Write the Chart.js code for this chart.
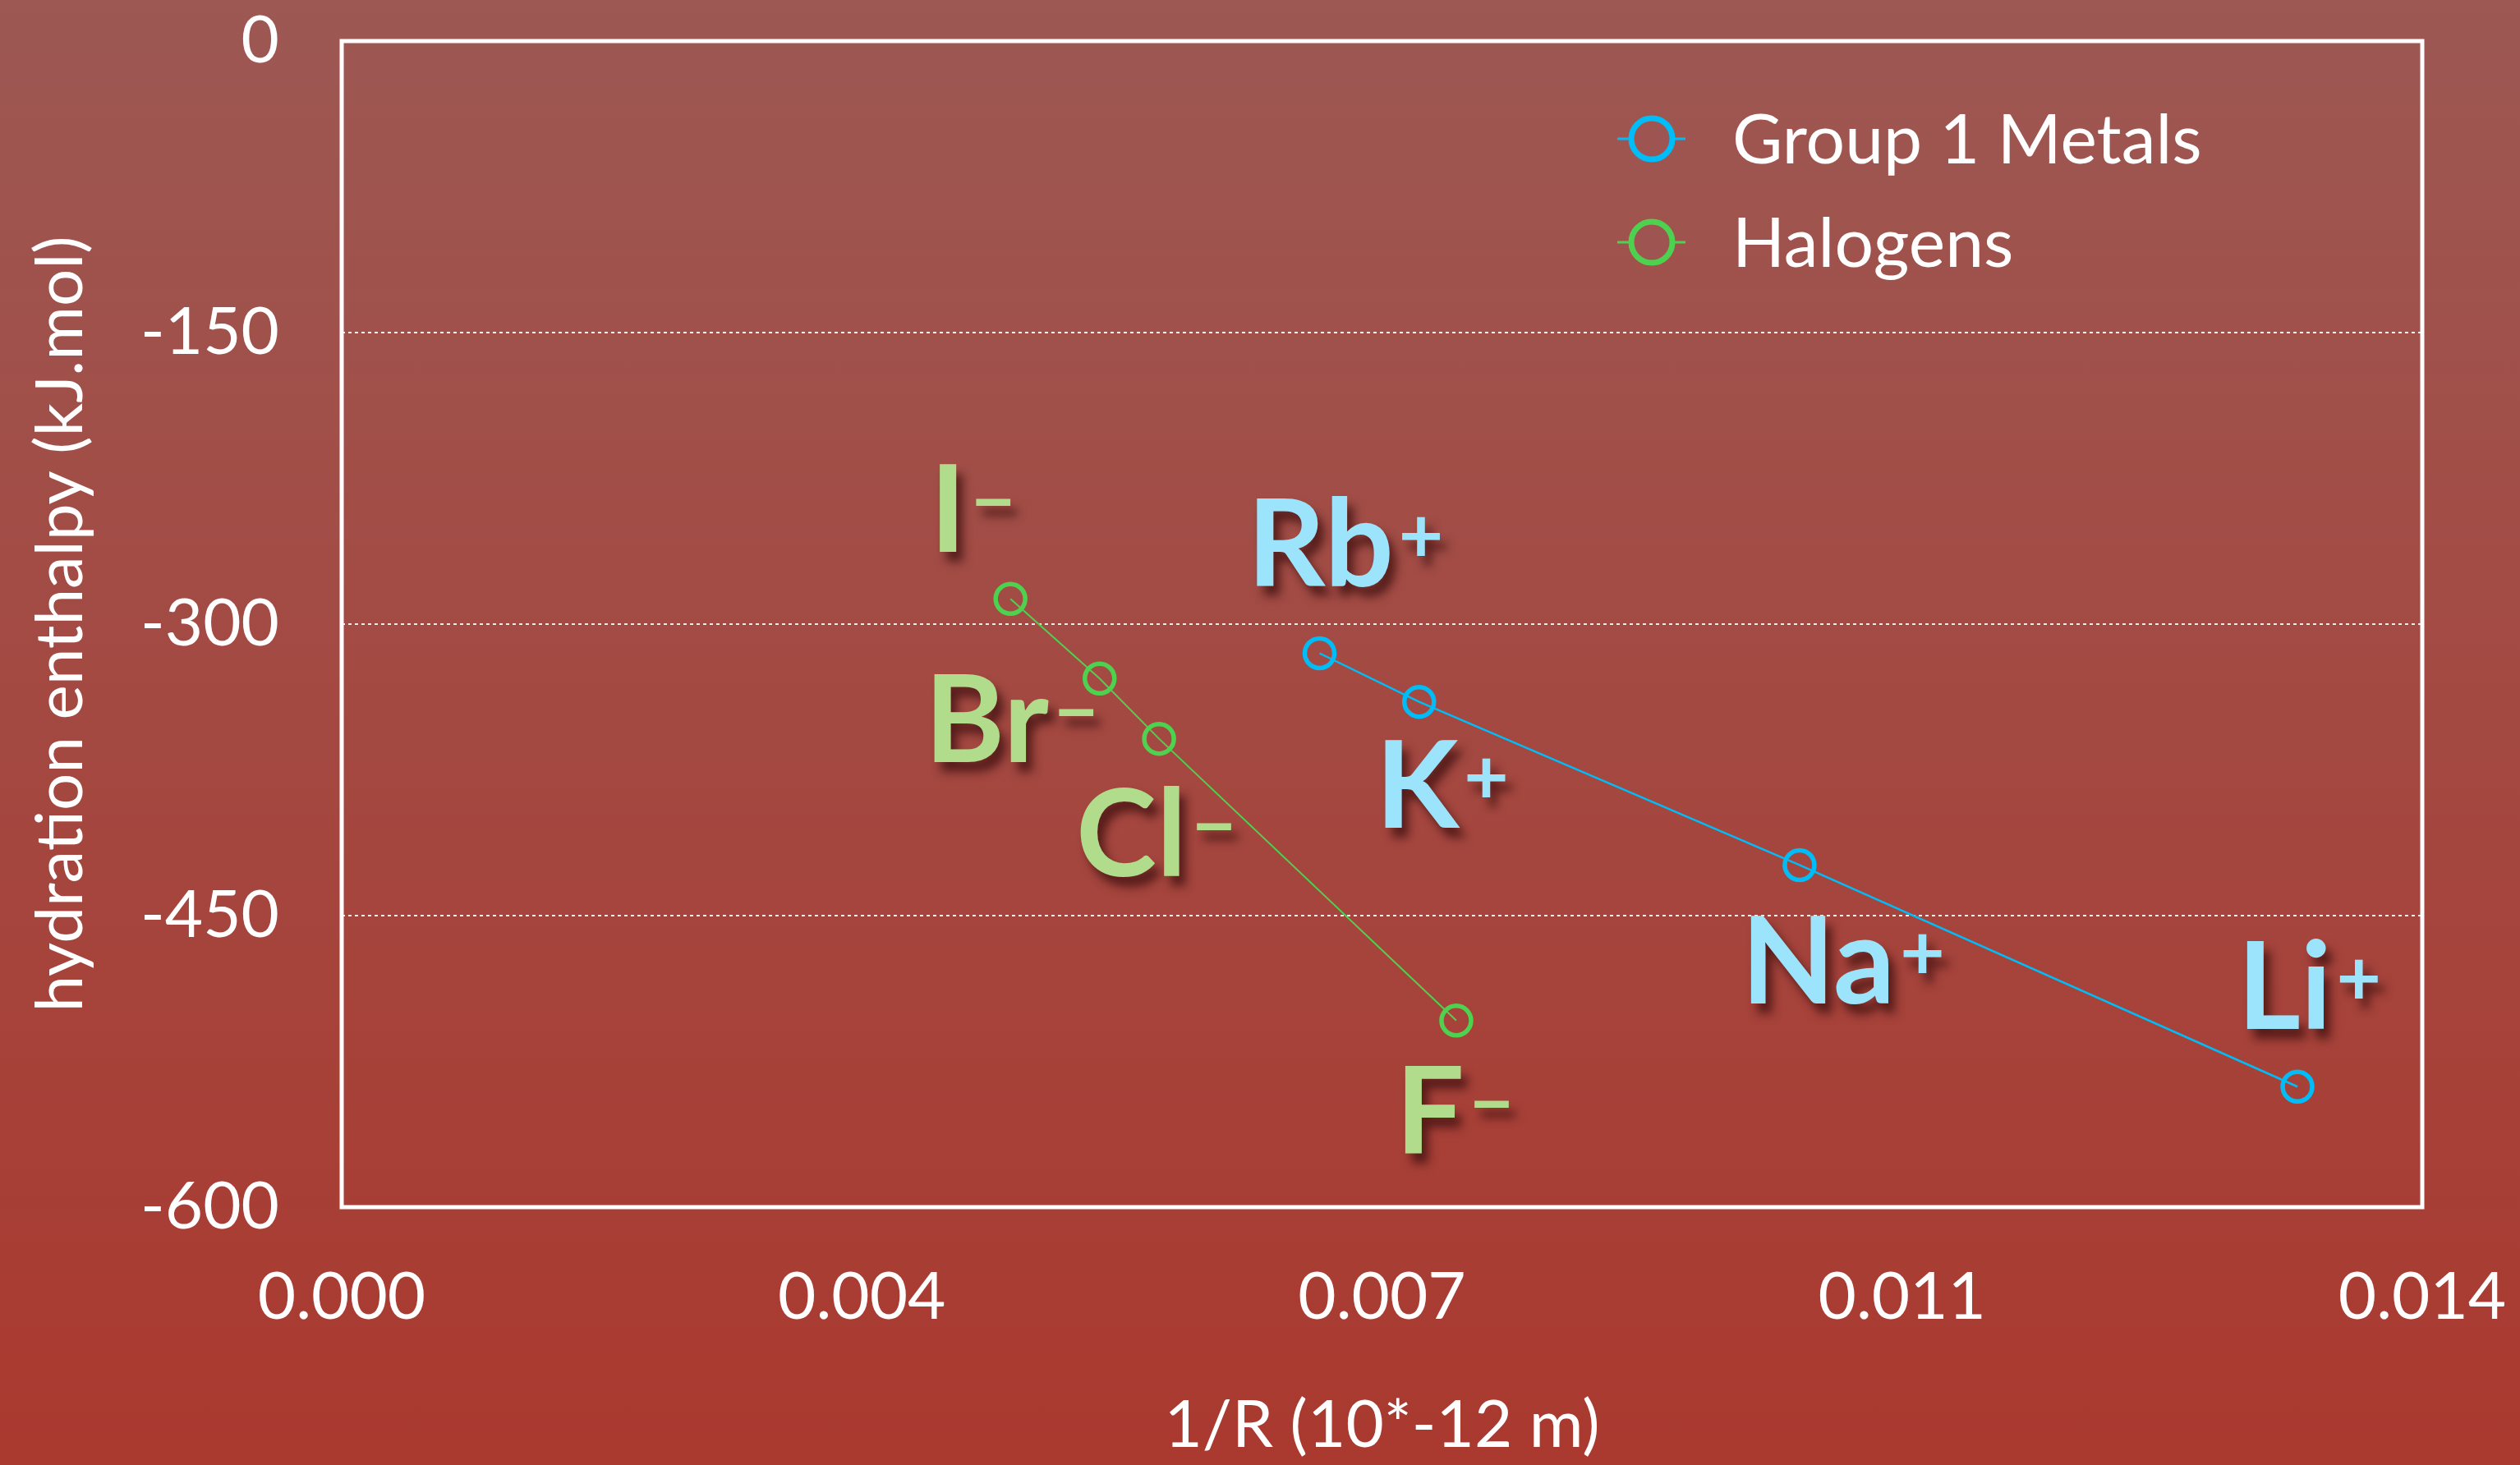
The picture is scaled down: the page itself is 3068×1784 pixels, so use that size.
<!DOCTYPE html>
<html>
<head>
<meta charset="utf-8">
<title>Hydration enthalpy vs 1/R</title>
<script src="https://cdn.jsdelivr.net/npm/chart.js@4.4.1/dist/chart.umd.min.js"></script>
<style>
    html, body { margin: 0; padding: 0; }
    body {
        width: 3068px;
        height: 1784px;
        overflow: hidden;
        background: linear-gradient(#9d5853, #aa392f);
    }
</style>
</head>
<body>
<canvas id="myChart" width="3068" height="1784"></canvas>
<script>
// values
const metalIons = ['Rb', 'K', 'Na', 'Li'];
const metalInvR = [0.00658, 0.00725, 0.00981, 0.01316];
const metalEnthalpy = [-315, -340, -424, -538];

const halogenIons = ['I', 'Br', 'Cl', 'F'];
const halogenInvR = [0.00450, 0.00510, 0.00550, 0.00750];
const halogenEnthalpy = [-287, -328, -359, -504];

const xTickValues = [0, 0.0035, 0.007, 0.0105, 0.014];
const xTickLabels = ['0.000', '0.004', '0.007', '0.011', '0.014'];
const yTickValues = [0, -150, -300, -450, -600];
const yTickLabels = ['0', '-150', '-300', '-450', '-600'];

// where each ion name goes, px from its point (left edge, baseline)
const metalLabelOffsets = [[-88, -82], [-53, 153], [-71, 169], [-73, -70]];
const halogenLabelOffsets = [[-98, -57], [-213, 102], [-101, 167], [-74, 162]];

const axisFont = 'Lato';
const blue = '#00bdf8';
const green = '#4fd150';

function toPoints(xs, ys) {
    return xs.map((x, i) => ({ x: x, y: ys[i] }));
}

// white frame round the plot area
const plotFrame = {
    id: 'plotFrame',
    beforeDatasetsDraw(chart) {
        const a = chart.chartArea;
        const c = chart.ctx;
        c.save();
        c.strokeStyle = '#ffffff';
        c.lineWidth = 5;
        c.strokeRect(a.left, a.top, a.right - a.left, a.bottom - a.top);
        c.restore();
    }
};

// big ion names next to the points, with a drop shadow
const ionLabels = {
    id: 'ionLabels',
    afterDatasetsDraw(chart) {
        const c = chart.ctx;
        chart.data.datasets.forEach((ds, di) => {
            const meta = chart.getDatasetMeta(di);
            meta.data.forEach((pt, i) => {
                const x = pt.x + ds.labelOffsets[i][0];
                const y = pt.y + ds.labelOffsets[i][1];
                c.save();
                c.fillStyle = ds.labelColor;
                c.shadowColor = 'rgba(60, 15, 15, 0.75)';
                c.shadowOffsetX = 8;
                c.shadowOffsetY = 12;
                c.shadowBlur = 12;
                c.textBaseline = 'alphabetic';
                c.textAlign = 'left';
                c.font = 'bold 148px Lato';
                c.fillText(ds.ions[i], x, y);
                const w = c.measureText(ds.ions[i]).width;
                c.font = 'bold 94px Lato';
                c.fillText(ds.sign, x + w + 6, y - 29);
                c.restore();
            });
        });
    }
};

// legend in the top right corner of the plot
const seriesKey = {
    id: 'seriesKey',
    afterDraw(chart) {
        const a = chart.chartArea;
        const c = chart.ctx;
        const left = a.right - 980;
        let y = a.top + 119;
        chart.data.datasets.forEach(ds => {
            c.save();
            c.strokeStyle = ds.borderColor;
            c.lineWidth = 3;
            c.beginPath();
            c.moveTo(left, y);
            c.lineTo(left + 83, y);
            c.stroke();
            c.fillStyle = '#9e5450';
            c.lineWidth = 7;
            c.beginPath();
            c.arc(left + 42, y, 25, 0, Math.PI * 2);
            c.fill();
            c.stroke();
            c.fillStyle = '#ffffff';
            c.font = '84px ' + axisFont;
            c.textBaseline = 'alphabetic';
            c.fillText(ds.label, left + 140, y + 30);
            c.restore();
            y += 126;
        });
    }
};

const ctx = document.getElementById('myChart').getContext('2d');
const myChart = new Chart(ctx, {
    type: 'line',
    data: {
        datasets: [{
            label: 'Group 1 Metals',
            data: toPoints(metalInvR, metalEnthalpy),
            borderColor: blue,
            borderWidth: 2.5,
            pointRadius: 18,
            pointBorderWidth: 5.5,
            pointBorderColor: blue,
            pointBackgroundColor: 'rgba(0,0,0,0)',
            ions: metalIons,
            sign: '+',
            labelColor: '#9ce4fb',
            labelOffsets: metalLabelOffsets
        }, {
            label: 'Halogens',
            data: toPoints(halogenInvR, halogenEnthalpy),
            borderColor: green,
            borderWidth: 2,
            pointRadius: 18,
            pointBorderWidth: 5.5,
            pointBorderColor: green,
            pointBackgroundColor: 'rgba(0,0,0,0)',
            ions: halogenIons,
            sign: '\u2212',
            labelColor: '#b1dc8c',
            labelOffsets: halogenLabelOffsets
        }]
    },
    options: {
        responsive: false,
        animation: false,
        layout: { padding: { top: 50, right: 119, left: 0, bottom: 0 } },
        plugins: {
            legend: { display: false },
            tooltip: { enabled: false }
        },
        scales: {
            x: {
                type: 'linear',
                min: 0,
                max: 0.014,
                afterBuildTicks: axis => { axis.ticks = xTickValues.map(v => ({ value: v })); },
                afterFit: axis => {
                    axis.height = 314;
                    axis.paddingLeft = 0;
                    axis.paddingRight = 0;
                },
                ticks: {
                    callback: (v, i) => xTickLabels[i],
                    color: '#ffffff',
                    font: { family: axisFont, size: 80 },
                    padding: 62,
                    maxRotation: 0,
                    autoSkip: false
                },
                grid: { display: false, drawTicks: false },
                border: { display: false },
                title: {
                    display: true,
                    text: '1/R (10*-12 m)',
                    color: '#ffffff',
                    font: { family: axisFont, size: 80 },
                    padding: 0
                }
            },
            y: {
                type: 'linear',
                min: -600,
                max: 0,
                afterBuildTicks: axis => { axis.ticks = yTickValues.map(v => ({ value: v })); },
                afterFit: axis => {
                    axis.width = 416;
                    axis.paddingTop = 0;
                    axis.paddingBottom = 0;
                },
                ticks: {
                    callback: (v, i) => yTickLabels[i],
                    color: '#ffffff',
                    font: { family: axisFont, size: 80 },
                    padding: 76,
                    autoSkip: false
                },
                grid: {
                    color: 'rgba(255,255,255,0.9)',
                    lineWidth: 2,
                    drawTicks: false
                },
                border: { display: false, dash: [4, 4] },
                title: {
                    display: true,
                    text: 'hydration enthalpy (kJ.mol)',
                    color: '#ffffff',
                    font: { family: axisFont, size: 80 },
                    padding: { top: 26, bottom: 0 }
                }
            }
        }
    },
    plugins: [plotFrame, ionLabels, seriesKey]
});
</script>
</body>
</html>
